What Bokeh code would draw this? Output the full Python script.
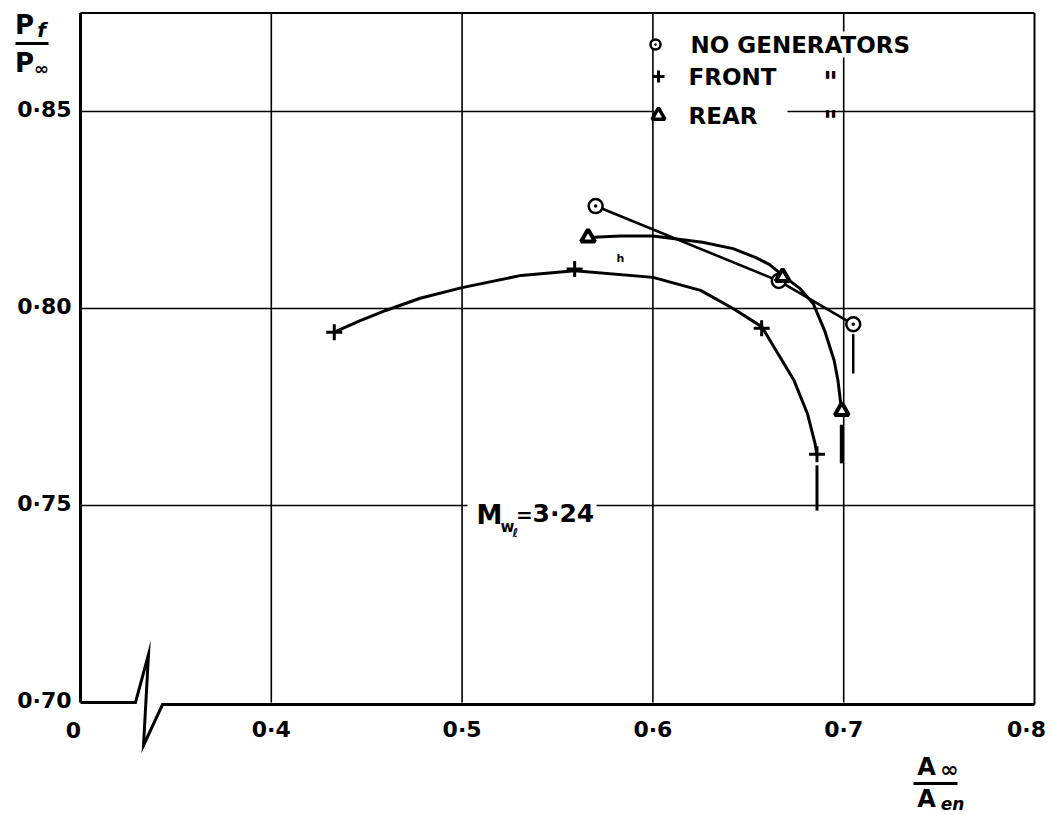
from bokeh.plotting import figure
from bokeh.models import Range1d
from bokeh.core.properties import value
from bokeh.embed import file_html
from bokeh.resources import INLINE

# ---------------- data ----------------
# measured points
nogen_x = [0.570, 0.666, 0.705]
nogen_y = [0.826, 0.807, 0.796]
front_x = [0.433, 0.559, 0.657, 0.686]
front_y = [0.794, 0.810, 0.795, 0.763]
rear_x = [0.566, 0.668, 0.699]
rear_y = [0.818, 0.808, 0.774]

# hand-faired curves as drawn on the sheet
front_curve_x = [0.433, 0.446, 0.460, 0.478, 0.500, 0.531, 0.559, 0.600, 0.625, 0.642,
                 0.657, 0.674, 0.681, 0.685, 0.686]
front_curve_y = [0.794, 0.7968, 0.7995, 0.8026, 0.8053, 0.8084, 0.8096, 0.8079, 0.8046, 0.800,
                 0.7954, 0.7817, 0.7733, 0.7657, 0.7627]
rear_curve_x = [0.566, 0.583, 0.600, 0.626, 0.642, 0.654, 0.661, 0.668, 0.677, 0.684, 0.690,
                0.695, 0.697, 0.699]
rear_curve_y = [0.818, 0.8184, 0.8184, 0.8168, 0.8152, 0.8129, 0.8112, 0.8084, 0.8051, 0.8013,
                0.7944, 0.7868, 0.7817, 0.7736]

# vertical tails drawn below the last point of each series
tail_x = [0.705, 0.686, 0.699]
tail_top = [0.7935, 0.7602, 0.7705]
tail_bottom = [0.7835, 0.7487, 0.7607]
tail_width = [2.5, 3, 4]

# axes
x_ticks = [0.3, 0.4, 0.5, 0.6, 0.7, 0.8]
x_tick_labels = ["0", "0·4", "0·5", "0·6", "0·7", "0·8"]
y_ticks = [0.70, 0.75, 0.80, 0.85]
y_tick_labels = ["0·70", "0·75", "0·80", "0·85"]
x_grid = [0.4, 0.5, 0.6, 0.7]
y_grid = [0.75, 0.80, 0.85]
x_lo, x_hi = 0.3, 0.8
y_lo, y_hi = 0.70, 0.875

legend_labels = ["NO  GENERATORS", "FRONT", "REAR"]
mach_label = "3·24"

# ---------------- layout helpers (pixel -> data for decorations) ----------------
W, H = 1052, 815
SX = 1908.0   # px per unit x
SY = 3940.0   # px per unit y
X0 = x_lo - 80 / SX
X1 = X0 + W / SX
YT = y_lo + 702 / SY
YB = YT - H / SY


def X(px):
    return X0 + px / SX


def Y(py):
    return YT - py / SY


FONT = value("DejaVu Sans")

p = figure(width=W, height=H, x_range=Range1d(X0, X1), y_range=Range1d(YB, YT),
           output_backend="svg", toolbar_location=None,
           x_axis_location=None, y_axis_location=None,
           min_border=0, min_border_left=0, min_border_right=0,
           min_border_top=0, min_border_bottom=0)
p.outline_line_color = None
p.xgrid.visible = False
p.ygrid.visible = False
p.background_fill_color = "white"
p.border_fill_color = "white"

# grid
p.segment(x0=x_grid, y0=[y_lo] * len(x_grid), x1=x_grid, y1=[y_hi] * len(x_grid),
          line_color="black", line_width=1.6)
p.segment(x0=[x_lo] * len(y_grid), y0=y_grid, x1=[x_hi] * len(y_grid), y1=y_grid,
          line_color="black", line_width=1.6)

# frame
p.line([x_lo, x_lo], [y_lo, y_hi], line_color="black", line_width=3)
p.line([x_lo, x_hi], [y_hi, y_hi], line_color="black", line_width=2)
p.line([x_hi, x_hi], [Y(704), y_hi], line_color="black", line_width=2)
# bottom edge with axis break
p.line([x_lo, X(135), X(148), X(143), X(162), x_hi],
       [y_lo, y_lo, Y(654), Y(745), Y(704), Y(704)],
       line_color="black", line_width=3, line_join="miter")

# white backgrounds behind lettering
p.quad(left=[X(686), X(654), X(467)], right=[X(926), X(787), X(596)],
       top=[Y(31), Y(104), Y(499)], bottom=[Y(57), Y(127), Y(533)],
       fill_color="white", line_color=None)

# tick labels
p.text(x=[x_lo] * len(y_ticks), y=y_ticks, text=y_tick_labels, x_offset=-9, y_offset=-2,
       text_align="right", text_baseline="middle", text_font=FONT,
       text_font_style="bold", text_font_size="22px", text_color="black")
p.text(x=x_ticks, y=[y_lo] * len(x_ticks), text=x_tick_labels, y_offset=27,
       x_offset=[-7, 0, 0, 0, 0, -8],
       text_align="center", text_baseline="middle", text_font=FONT,
       text_font_style="bold", text_font_size="22px", text_color="black")

# y-axis title  p_f / p_inf
p.text(x=[X(24)], y=[Y(24)], text=["P"], text_align="center", text_baseline="middle",
       text_font=FONT, text_font_style="bold", text_font_size="26px")
p.text(x=[X(41)], y=[Y(29)], text=["f"], text_align="center", text_baseline="middle",
       text_font=FONT, text_font_style="bold italic", text_font_size="20px")
p.line([X(15), X(48)], [Y(43), Y(43)], line_color="black", line_width=3)
p.text(x=[X(24)], y=[Y(62)], text=["P"], text_align="center", text_baseline="middle",
       text_font=FONT, text_font_style="bold", text_font_size="26px")
p.text(x=[X(41)], y=[Y(68)], text=["∞"], text_align="center", text_baseline="middle",
       text_font=FONT, text_font_style="bold", text_font_size="18px")

# x-axis title  A_inf / A_en
p.text(x=[X(926)], y=[Y(766)], text=["A"], text_align="center", text_baseline="middle",
       text_font=FONT, text_font_style="bold", text_font_size="24px")
p.text(x=[X(949)], y=[Y(769)], text=["∞"], text_align="center", text_baseline="middle",
       text_font=FONT, text_font_style="bold", text_font_size="22px")
p.line([X(913), X(957)], [Y(783), Y(783)], line_color="black", line_width=3)
p.text(x=[X(926)], y=[Y(798)], text=["A"], text_align="center", text_baseline="middle",
       text_font=FONT, text_font_style="bold", text_font_size="24px")
p.text(x=[X(952)], y=[Y(803)], text=["en"], text_align="center", text_baseline="middle",
       text_font=FONT, text_font_style="bold italic", text_font_size="17px")

# Mach number label
p.text(x=[X(476)], y=[Y(514)], text=["M"], text_align="left", text_baseline="middle",
       text_font=FONT, text_font_style="bold", text_font_size="26px")
p.text(x=[X(500)], y=[Y(526)], text=["w"], text_align="left", text_baseline="middle",
       text_font=FONT, text_font_style="bold", text_font_size="15px")
p.text(x=[X(512)], y=[Y(532)], text=["ℓ"], text_align="left", text_baseline="middle",
       text_font=FONT, text_font_style="bold", text_font_size="12px")
p.text(x=[X(524)], y=[Y(514)], text=["="], text_align="center", text_baseline="middle",
       text_font=FONT, text_font_style="bold", text_font_size="20px")
p.text(x=[X(532)], y=[Y(513)], text=[mach_label], text_align="left", text_baseline="middle",
       text_font=FONT, text_font_style="bold", text_font_size="25px")

# small pen mark
p.text(x=[X(620)], y=[Y(258)], text=["h"], text_align="center", text_baseline="middle",
       text_font=FONT, text_font_style="bold", text_font_size="11px")

# legend
leg_y = [Y(44), Y(76), Y(115)]
p.text(x=[X(690), X(688), X(688)], y=leg_y, text=legend_labels, text_align="left",
       text_baseline="middle", text_font=FONT, text_font_style="bold", text_font_size="23px")
p.text(x=[X(830), X(830)], y=[Y(82), Y(121)], text=['"', '"'], text_align="center",
       text_baseline="middle", text_font=FONT, text_font_style="bold", text_font_size="28px")
p.scatter([X(655)], [leg_y[0]], marker="circle_dot", size=10, line_width=2.5,
          line_color="black", fill_color="white")
p.scatter([X(658)], [leg_y[1]], marker="cross", size=12, line_width=3, line_color="black")
p.scatter([X(658)], [leg_y[2]], marker="triangle", size=13, line_width=3.5,
          line_color="black", fill_color="white")

# curves
p.line(nogen_x, nogen_y, line_color="black", line_width=2.6)
p.line(front_curve_x, front_curve_y, line_color="black", line_width=3, line_join="round")
p.line(rear_curve_x, rear_curve_y, line_color="black", line_width=3, line_join="round")
for tx, t0, t1, tw in zip(tail_x, tail_top, tail_bottom, tail_width):
    p.line([tx, tx], [t0, t1], line_color="black", line_width=tw)

# markers
p.scatter(nogen_x, nogen_y, marker="circle_dot", size=14, line_width=2.5,
          line_color="black", fill_color="white")
p.scatter(front_x, front_y, marker="cross", size=16, line_width=3, line_color="black")
p.scatter(rear_x, rear_y, marker="triangle", size=14, line_width=4,
          line_color="black", fill_color="white")

open("out.html", "w").write(file_html(p, INLINE))
